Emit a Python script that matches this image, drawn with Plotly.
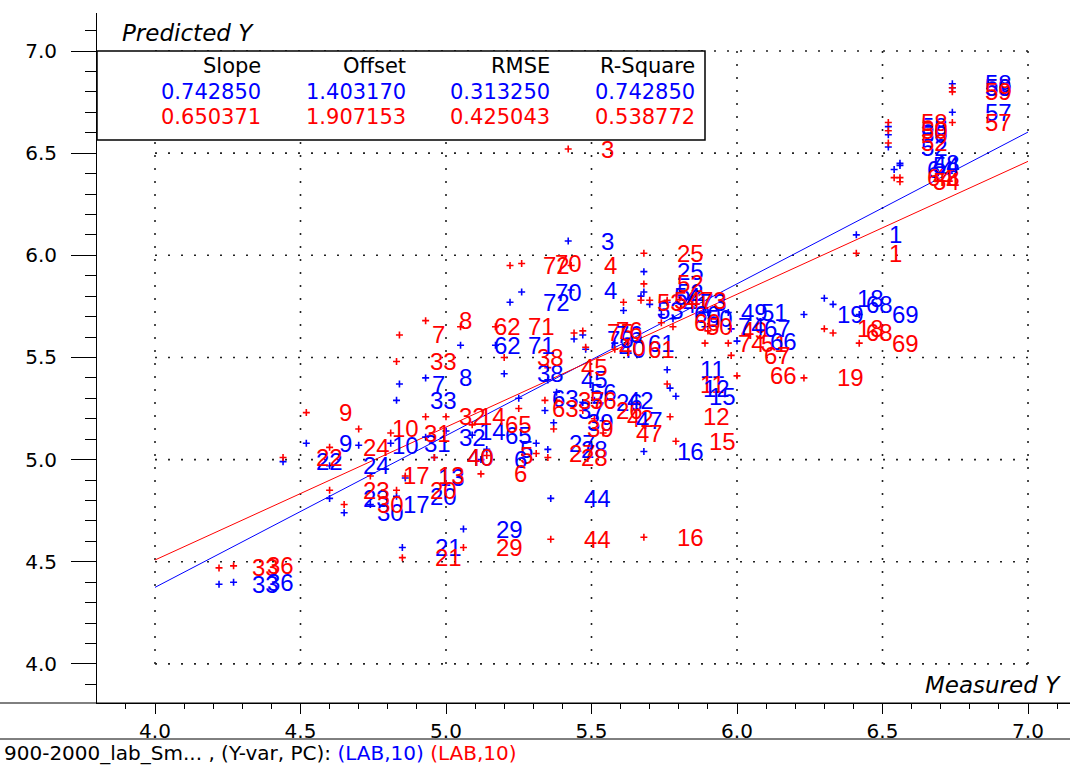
import plotly.graph_objects as go

# ---------------- data ----------------
labels = ["1", "3", "4", "5", "6", "7", "8", "9", "10", "11", "12", "13", "14", "15", "16",
          "17", "18", "19", "20", "21", "22", "23", "24", "25", "26", "27", "28", "29", "30",
          "31", "32", "33", "33", "36", "37", "38", "39", "40", "41", "42", "44", "45", "40",
          "47", "49", "50", "51", "52", "53", "54", "56", "57", "58", "59", "58", "50", "52",
          "60", "61", "62", "63", "65", "66", "67", "68", "69", "70", "71", "72", "73", "74",
          "75", "76", "48", "64", "54"]
measured = [6.41, 5.42, 5.43, 5.14, 5.12, 4.84, 4.93, 4.52, 4.70, 5.76, 5.77, 4.86, 5.00, 5.79, 5.68,
            4.74, 6.30, 6.23, 4.83, 4.85, 4.44, 4.60, 4.60, 5.68, 5.47, 5.31, 5.35, 5.06, 4.65,
            4.81, 4.93, 4.83, 4.22, 4.27, 5.34, 5.20, 5.37, 4.96, 5.70, 5.51, 5.36, 5.35, 5.48,
            5.54, 5.90, 5.78, 5.97, 5.68, 5.61, 5.67, 5.38, 6.74, 6.74, 6.74, 6.52, 6.52, 6.52,
            5.74, 5.58, 5.05, 5.25, 5.09, 6.00, 5.98, 6.33, 6.42, 5.26, 5.17, 5.22, 5.76, 5.89,
            5.44, 5.47, 6.56, 6.54, 6.56]
pred_blue = [6.10, 6.07, 5.83, 5.05, 5.00, 5.37, 5.40, 5.08, 5.07, 5.44, 5.35, 4.91, 5.14, 5.31, 5.04,
             4.78, 5.79, 5.71, 4.82, 4.57, 4.99, 4.81, 4.97, 5.92, 5.28, 5.08, 5.05, 4.66, 4.74,
             5.08, 5.11, 5.29, 4.39, 4.40, 5.24, 5.42, 5.18, 5.01, 5.76, 5.29, 4.81, 5.39, 5.54,
             5.19, 5.72, 5.69, 5.72, 5.82, 5.73, 5.80, 5.33, 6.70, 6.84, 6.82, 6.63, 6.59, 6.53,
             5.71, 5.57, 5.56, 5.30, 5.12, 5.58, 5.64, 5.76, 5.71, 5.82, 5.56, 5.77, 5.77, 5.65,
             5.59, 5.61, 6.45, 6.42, 6.44]
pred_red = [6.01, 6.52, 5.95, 5.02, 4.93, 5.61, 5.68, 5.23, 5.15, 5.37, 5.21, 4.92, 5.21, 5.09, 4.62,
            4.92, 5.64, 5.40, 4.85, 4.52, 5.01, 4.85, 5.06, 6.01, 5.24, 5.03, 5.01, 4.57, 4.78,
            5.13, 5.21, 5.48, 4.47, 4.48, 5.29, 5.50, 5.15, 5.01, 5.78, 5.20, 4.61, 5.45, 5.55,
            5.13, 5.63, 5.65, 5.57, 5.86, 5.77, 5.78, 5.29, 6.65, 6.82, 6.80, 6.65, 6.61, 6.55,
            5.67, 5.54, 5.65, 5.25, 5.17, 5.41, 5.51, 5.62, 5.57, 5.96, 5.65, 5.95, 5.78, 5.57,
            5.62, 5.63, 6.38, 6.38, 6.36]

fit_names = ["Slope", "Offset", "RMSE", "R-Square"]
fit_blue = [0.742850, 1.403170, 0.313250, 0.742850]
fit_red = [0.650371, 1.907153, 0.425043, 0.538772]

line_x = [4.0, 7.0]
grid_vals = [4.0, 4.5, 5.0, 5.5, 6.0, 6.5, 7.0]

BLUE = "#0000FF"
RED = "#FF0000"
FONT = "DejaVu Sans"
LABEL_FONT = "Liberation Sans"

# plot area geometry (paper)
X_RANGE = [3.8007, 7.1443]
Y_RANGE = [3.8086, 7.186]
L, R, T, B = 97, 0, 13, 63
PW, PH = 1070 - L - R, 766 - T - B


def px(xp):
    return (xp - L) / PW


def py(yp):
    return (766 - B - yp) / PH


fig = go.Figure()

# regression lines + points
for color, fit in [(BLUE, fit_blue), (RED, fit_red)]:
    slope, offset = fit[0], fit[1]
    fig.add_trace(go.Scatter(x=line_x, y=[offset + slope * v for v in line_x], mode="lines",
                             line=dict(color=color, width=1), hoverinfo="skip"))
for color, preds in [(BLUE, pred_blue), (RED, pred_red)]:
    fig.add_trace(go.Scatter(x=measured, y=preds, mode="markers",
                             marker=dict(symbol="cross-thin", size=5,
                                         line=dict(color=color, width=1.6)),
                             hoverinfo="skip"))

annotations = []
for lab, xv, yb, yr in zip(labels, measured, pred_blue, pred_red):
    for color, yv in [(BLUE, yb), (RED, yr)]:
        annotations.append(dict(x=xv, y=yv, xref="x", yref="y", text=lab, showarrow=False,
                                xanchor="left", yanchor="middle", xshift=31,
                                font=dict(family=LABEL_FONT, size=24, color=color)))

# grid shapes
shapes = []
for v in grid_vals:
    shapes.append(dict(type="line", xref="x", yref="y", x0=v, x1=v, y0=grid_vals[0], y1=grid_vals[-1],
                       line=dict(color="#222222", width=1.6, dash="2px,11px"), layer="below"))
    shapes.append(dict(type="line", xref="x", yref="y", x0=grid_vals[0], x1=grid_vals[-1], y0=v, y1=v,
                       line=dict(color="#222222", width=1.6, dash="2px,11px"), layer="below"))

# statistics table box
shapes.append(dict(type="rect", xref="paper", yref="paper", x0=px(97), x1=px(705), y0=py(140), y1=py(51),
                   fillcolor="white", line=dict(color="black", width=1.5), layer="above"))
# x axis extension to the left edge and separator line
shapes.append(dict(type="line", xref="paper", yref="paper", x0=px(0), x1=1, y0=0, y1=0,
                   line=dict(color="black", width=1)))
shapes.append(dict(type="line", xref="paper", yref="paper", x0=px(0), x1=1, y0=py(739), y1=py(739),
                   line=dict(color="black", width=1)))

# table texts
col_right = [263, 408, 552, 697]
for name, vb, vr, xr in zip(fit_names, fit_blue, fit_red, col_right):
    for txt, yy, col in [(name, 66, "black"), (f"{vb:.6f}", 92, BLUE), (f"{vr:.6f}", 117, RED)]:
        annotations.append(dict(x=px(xr), y=py(yy), xref="paper", yref="paper", text=txt,
                                showarrow=False, xanchor="right", yanchor="middle",
                                font=dict(family=FONT, size=21, color=col)))

annotations.append(dict(x=px(120), y=py(33), xref="paper", yref="paper", text="<i>Predicted Y</i>",
                        showarrow=False, xanchor="left", yanchor="middle",
                        font=dict(family=FONT, size=23, color="black")))
annotations.append(dict(x=px(1063), y=py(685), xref="paper", yref="paper", text="<i>Measured Y</i>",
                        showarrow=False, xanchor="right", yanchor="middle",
                        font=dict(family=FONT, size=23, color="black")))
annotations.append(dict(x=px(2), y=py(753), xref="paper", yref="paper",
                        text="900-2000_lab_Sm... , (Y-var, PC): <span style='color:#0000FF'>(LAB,10)</span> "
                             "<span style='color:#FF0000'>(LAB,10)</span>",
                        showarrow=False, xanchor="left", yanchor="middle",
                        font=dict(family=FONT, size=20, color="black")))

axis_common = dict(showgrid=False, zeroline=False, showline=True, linecolor="black", linewidth=1,
                   ticks="outside", tickcolor="black", tickmode="linear", tick0=4.0, dtick=0.5,
                   tickformat=".1f", tickfont=dict(family=FONT, size=20, color="black"))

fig.update_layout(
    width=1070, height=766,
    margin=dict(l=L, r=R, t=T, b=B),
    paper_bgcolor="white", plot_bgcolor="white",
    showlegend=False, hovermode=False,
    xaxis=dict(range=X_RANGE, ticklen=10,
               minor=dict(dtick=0.1, tick0=4.0, ticks="outside", ticklen=5, tickcolor="black"),
               **axis_common),
    yaxis=dict(range=Y_RANGE, ticklen=25, ticklabelstandoff=10,
               minor=dict(dtick=0.1, tick0=4.0, ticks="outside", ticklen=11, tickcolor="black"),
               **axis_common),
    shapes=shapes,
    annotations=annotations,
)

fig.write_html("out.html")
